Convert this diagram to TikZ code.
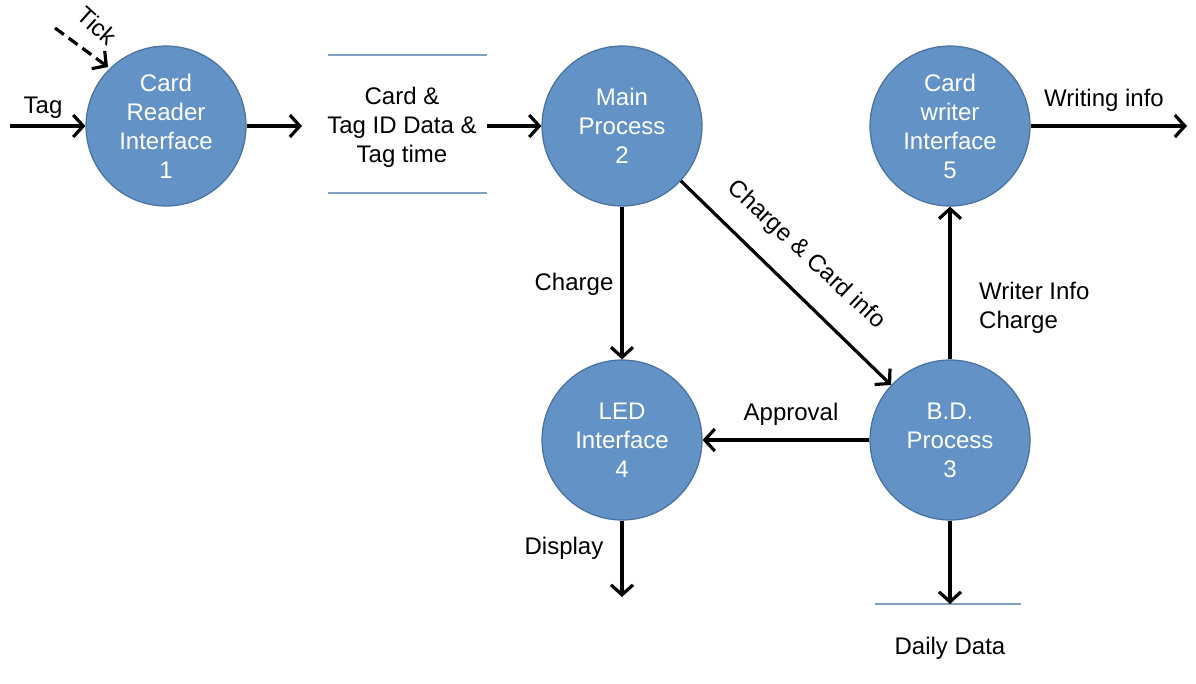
\documentclass[tikz,border=0pt]{standalone}
\usepackage{fontspec}
\setmainfont{Liberation Sans}
\usetikzlibrary{arrows.meta}
\definecolor{procfill}{RGB}{99,146,198}
\definecolor{procdraw}{RGB}{72,112,158}
\definecolor{storeline}{RGB}{128,160,196}
\begin{document}
\begin{tikzpicture}[x=1pt,y=-1pt,
  proc/.style={circle,fill=procfill,draw=procdraw,line width=1.2pt,minimum size=160pt,inner sep=0pt,
    text=white,align=center,font=\fontsize{24}{29}\selectfont},
  lbl/.style={font=\fontsize{24}{29}\selectfont,align=center,inner sep=0pt},
  flow/.style={line width=3.2pt,-{Straight Barb[length=10pt,width=22pt,line width=3.2pt]}},
  storel/.style={draw=storeline,line width=2.8pt}]
\useasboundingbox (0,0) rectangle (1196,683);
\node[proc] (p1) at (166,126) {Card\\Reader\\Interface\\1};
\node[proc] (p2) at (622,126) {Main\\Process\\2};
\node[proc] (p5) at (950,126) {Card\\writer\\Interface\\5};
\node[proc] (p4) at (622,440) {LED\\Interface\\4};
\node[proc] (p3) at (950,440) {B.D.\\Process\\3};
% data store 1
\coordinate (s1tl) at (328,55); \coordinate (s1tr) at (487,55);
\coordinate (s1bl) at (328,193); \coordinate (s1br) at (487,193);
\draw[storel] (s1tl) -- (s1tr);
\draw[storel] (s1bl) -- (s1br);
\node[lbl] (s1) at (402,127) {Card \&\\Tag ID Data \&\\Tag time};
\coordinate (s1in) at (302,126); \coordinate (s1out) at (487,126);
% daily data store
\coordinate (ddl) at (875,604); \coordinate (ddr) at (1021,604);
\draw[storel] (ddl) -- (ddr);
\node[lbl] (dd) at (950,648) {Daily Data};
\coordinate (ddin) at (950,604);
% external ends
\coordinate (tagsrc) at (10,126);
\coordinate (ticksrc) at (55,28);
\coordinate (tickend) at (108,67);
\coordinate (wout) at (1187,126);
\coordinate (dispout) at (622,597);
% flows
\draw[flow] (tagsrc) -- (p1.west);
\node[lbl] (tag) at (43,108) {Tag};
\draw[flow,dashed,dash pattern=on 11pt off 6pt] (ticksrc) -- (tickend);
\node[lbl,rotate=-42] (tick) at (97,26) {Tick};
\draw[flow] (p1.east) -- (s1in);
\draw[flow] (s1out) -- (p2.west);
\draw[flow] (p2.south) -- (p4.north);
\node[lbl] (charge) at (574,284) {Charge};
\draw[flow] (p2.-43) -- (p3.137);
\node[lbl,rotate=-43] (cci) at (806,255) {Charge \& Card info};
\draw[flow] (p3.north) -- (p5.south);
\node[lbl,align=left,anchor=west] (wic) at (979,308) {Writer Info\\Charge};
\draw[flow] (p5.east) -- (wout);
\node[lbl] (wi) at (1104,100) {Writing info};
\draw[flow] (p3.west) -- (p4.east);
\node[lbl] (appr) at (791,414) {Approval};
\draw[flow] (p4.south) -- (dispout);
\node[lbl] (disp) at (564,548) {Display};
\draw[flow] (p3.south) -- (ddin);
\end{tikzpicture}
\end{document}
